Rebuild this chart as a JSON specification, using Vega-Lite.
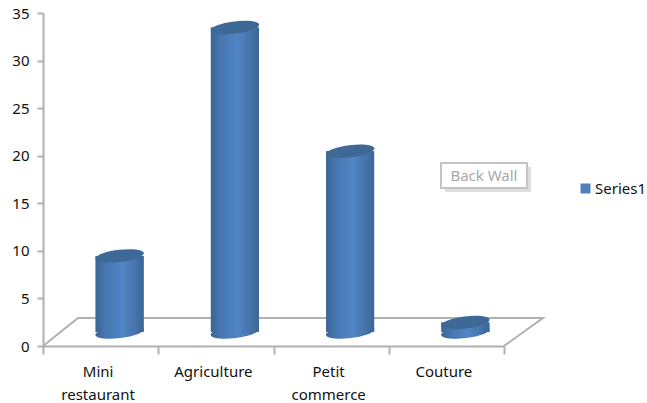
{
  "$schema": "https://vega.github.io/schema/vega-lite/v6.json",
  "width": 461,
  "height": 333,
  "autosize": "none",
  "padding": {"left": 43, "top": 13, "right": 143, "bottom": 57},
  "background": "white",
  "config": {"view": {"stroke": null}, "font": "Noto Sans"},
  "datasets": {
    "sales": [
      {"category": "Mini restaurant", "value": 8, "series": "Series1"},
      {"category": "Agriculture", "value": 32, "series": "Series1"},
      {"category": "Petit commerce", "value": 19, "series": "Series1"},
      {"category": "Couture", "value": 1, "series": "Series1"}
    ],
    "floor": [
      {"i": 0, "fx": 0, "fy": 0},
      {"i": 1, "fx": 0.304, "fy": 2.94},
      {"i": 2, "fx": 4.338, "fy": 2.94},
      {"i": 3, "fx": 4, "fy": 0}
    ],
    "callout": [
      {"left": 3.453, "right": 4.2, "top": 19.23, "bottom": 16.6, "mid": 3.826, "midY": 17.9, "label": "Back Wall"}
    ]
  },
  "layer": [
    {
      "data": {"name": "floor"},
      "mark": {"type": "line", "color": "#b0b0b0", "strokeWidth": 2, "clip": false},
      "encoding": {
        "x": {"field": "fx", "type": "quantitative", "scale": {"domain": [0, 4], "nice": false, "zero": false}, "axis": null},
        "y": {
          "field": "fy", "type": "quantitative",
          "scale": {"domain": [0, 35], "nice": false},
          "axis": {
            "title": null, "values": [0, 5, 10, 15, 20, 25, 30, 35], "grid": false,
            "labelFontSize": 15, "labelColor": "#111111", "labelPadding": 8,
            "tickSize": 6, "tickColor": "#b0b0b0", "tickWidth": 2,
            "domainColor": "#b0b0b0", "domainWidth": 2
          }
        },
        "order": {"field": "i"}
      }
    },
    {
      "data": {"name": "sales"},
      "mark": {"type": "bar", "width": 48, "xOffset": 19, "yOffset": -14, "y2Offset": -14},
      "encoding": {
        "x": {
          "field": "category", "type": "nominal", "sort": null,
          "scale": {"paddingInner": 0, "paddingOuter": 0},
          "axis": {
            "title": null, "labelAngle": 0, "labelExpr": "split(datum.label, ' ')",
            "labelFontSize": 15, "labelColor": "#111111", "labelPadding": 10, "labelLineHeight": 23, "labelOffset": -3,
            "tickBand": "extent", "tickSize": 8, "tickColor": "#b0b0b0", "tickWidth": 2,
            "domainColor": "#b0b0b0", "domainWidth": 2, "grid": false
          }
        },
        "y": {"field": "value", "type": "quantitative", "scale": {"domain": [0, 35], "nice": false}, "axis": {"title": null}},
        "color": {
          "field": "series", "type": "nominal",
          "scale": {"range": ["#4f81bd"]},
          "legend": {
            "title": null, "orient": "none", "legendX": 535, "legendY": 168,
            "symbolType": "square", "symbolSize": 100, "labelFontSize": 15, "labelColor": "#111111", "labelOffset": 2
          }
        }
      }
    },
    {
      "data": {"name": "sales"},
      "mark": {
        "type": "point", "filled": true, "opacity": 1, "size": 2350, "xOffset": 19, "yOffset": -14,
        "shape": "M-1,0.125 A1,0.25 -7 1 0 1,-0.125 A1,0.25 -7 1 0 -1,0.125 Z",
        "fill": {"x1": 0, "y1": 0, "x2": 1, "y2": 0, "gradient": "linear",
          "stops": [{"offset": 0, "color": "#3a6596"}, {"offset": 0.2, "color": "#4676ae"}, {"offset": 0.55, "color": "#5085c6"}, {"offset": 0.85, "color": "#4572a6"}, {"offset": 1, "color": "#3a6596"}]}
      },
      "encoding": {
        "x": {"field": "category", "type": "nominal", "sort": null, "scale": {"paddingInner": 0, "paddingOuter": 0}, "axis": null},
        "y": {"datum": 0, "type": "quantitative", "scale": {"domain": [0, 35], "nice": false}, "axis": {"title": null}}
      }
    },
    {
      "data": {"name": "sales"},
      "mark": {
        "type": "bar", "width": 48, "xOffset": 19, "yOffset": -14, "y2Offset": -14,
        "fill": {"x1": 0, "y1": 0, "x2": 1, "y2": 0, "gradient": "linear",
          "stops": [{"offset": 0, "color": "#3a6596"}, {"offset": 0.2, "color": "#4676ae"}, {"offset": 0.55, "color": "#5085c6"}, {"offset": 0.85, "color": "#4572a6"}, {"offset": 1, "color": "#3a6596"}]}
      },
      "encoding": {
        "x": {"field": "category", "type": "nominal", "sort": null, "scale": {"paddingInner": 0, "paddingOuter": 0}, "axis": null},
        "y": {"field": "value", "type": "quantitative", "scale": {"domain": [0, 35], "nice": false}, "axis": {"title": null}}
      }
    },
    {
      "data": {"name": "sales"},
      "mark": {
        "type": "point", "filled": true, "opacity": 1, "size": 2350, "color": "#3e6997", "xOffset": 19, "yOffset": -14,
        "shape": "M-1,0.125 A1,0.25 -7 1 0 1,-0.125 A1,0.25 -7 1 0 -1,0.125 Z"
      },
      "encoding": {
        "x": {"field": "category", "type": "nominal", "sort": null, "scale": {"paddingInner": 0, "paddingOuter": 0}, "axis": null},
        "y": {"field": "value", "type": "quantitative", "scale": {"domain": [0, 35], "nice": false}, "axis": {"title": null}}
      }
    },
    {
      "data": {"name": "callout"},
      "mark": {"type": "rect", "fill": "#d6d6d6", "opacity": 0.8, "xOffset": 4, "x2Offset": 4, "yOffset": 4, "y2Offset": 4},
      "encoding": {
        "x": {"field": "left", "type": "quantitative", "scale": {"domain": [0, 4], "nice": false, "zero": false}, "axis": null},
        "x2": {"field": "right"},
        "y": {"field": "top", "type": "quantitative", "scale": {"domain": [0, 35], "nice": false}, "axis": {"title": null}},
        "y2": {"field": "bottom"}
      }
    },
    {
      "data": {"name": "callout"},
      "mark": {"type": "rect", "fill": "white", "stroke": "#c4c4c4", "strokeWidth": 2},
      "encoding": {
        "x": {"field": "left", "type": "quantitative", "scale": {"domain": [0, 4], "nice": false, "zero": false}, "axis": null},
        "x2": {"field": "right"},
        "y": {"field": "top", "type": "quantitative", "scale": {"domain": [0, 35], "nice": false}, "axis": {"title": null}},
        "y2": {"field": "bottom"}
      }
    },
    {
      "data": {"name": "callout"},
      "mark": {"type": "text", "fontSize": 15, "color": "#a8a8a8", "align": "center", "baseline": "middle"},
      "encoding": {
        "x": {"field": "mid", "type": "quantitative", "scale": {"domain": [0, 4], "nice": false, "zero": false}, "axis": null},
        "y": {"field": "midY", "type": "quantitative", "scale": {"domain": [0, 35], "nice": false}, "axis": {"title": null}},
        "text": {"field": "label"}
      }
    }
  ],
  "resolve": {"scale": {"x": "independent"}, "axis": {"x": "independent"}}
}
